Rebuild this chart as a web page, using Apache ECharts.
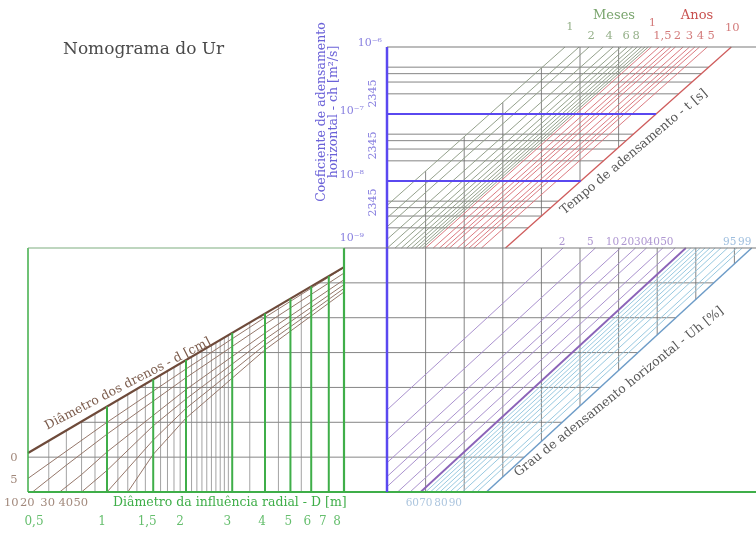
<!DOCTYPE html>
<html>
<head>
<meta charset="utf-8">
<script src="https://cdn.jsdelivr.net/npm/echarts@6/dist/echarts.min.js"></script>
<style>
html,body{margin:0;padding:0;background:#ffffff;}
#chart{width:756px;height:534px;}
</style>
</head>
<body>
<div id="chart"></div>
<script>
// ================= DATA =================
const chDecades = [-6, -7, -8, -9];              // ch = 10^dec  [m2/s]
const chMantissas = [2, 3, 4, 5];                // intermediate ch lines
const chReadings = [1e-7, 1e-8];                 // example reading lines (blue)
const monthLines = [1, 1.5, 2, 3, 4, 5, 6, 7, 8, 9, 10, 11];   // t in months
const monthTicks = [1, 2, 4, 6, 8];
const yearLines = [1, 1.25, 1.5, 1.75, 2, 2.5, 3, 3.5, 4, 5];  // t in years
const yearTicks = [1, 1.5, 2, 3, 4, 5, 10];
const yearMax = 10;
const uhPurple = [2, 5, 10, 15, 20, 30, 40];     // Uh [%]
const uhHalf = 50;
const uhCyan = [55, 60, 65, 70, 75, 80, 85, 90, 95, 97];
const uhMax = 99;
const uhTopTicks = [2, 5, 10, 20, 30, 40, 50, 95, 99];
const uhBottomTicks = [60, 70, 80, 90];
const dMajor = [1, 1.5, 2, 3, 4, 5, 6, 7];       // D [m]
const dMinor = [0.6, 0.7, 0.8, 0.9, 1.1, 1.2, 1.3, 1.4, 1.6, 1.7, 1.8, 1.9,
                2.1, 2.2, 2.3, 2.4, 2.5, 2.6, 2.7, 2.8, 2.9, 3.5, 4.5, 5.5];
const dRange = [0.5, 8];
const dTicks = [0.5, 1, 1.5, 2, 3, 4, 5, 6, 7, 8];
// drain lines: [D (m), ordinate (grid rows, 0 = bottom line)]
const drainRef = [[0.5, 1.12], [8, 6.45]];
const drainCurves = {
  5:  [[0.5, 0.39], [1, 2.0], [2, 3.53], [4, 5.01], [8, 6.44]],
  10: [[0.52, 0], [0.7, 0.77], [1, 1.66], [2, 3.28], [4, 4.81], [8, 6.28]],
  20: [[0.66, 0], [0.8, 0.5], [1, 1.15], [2, 2.94], [4, 4.56], [8, 6.09]],
  30: [[0.8, 0], [1, 0.62], [1.5, 1.9], [2, 2.67], [4, 4.38], [8, 5.95]],
  40: [[1.0, 0], [1.5, 1.49], [2, 2.40], [4, 4.22], [8, 5.84]],
  50: [[1.2, 0], [1.5, 1.08], [2, 2.12], [4, 4.08], [8, 5.74]]
};
const drainBottomTicks = [10, 20, 30, 40, 50];
const drainSideTicks = ['0', '5'];

// ================= LAYOUT / SCALES =================
const FONT = '"DejaVu Serif", serif';
const X_MIN = -2.7625, X_MAX = 2.3875;   // shared x units (log10 of months) for right quadrants
const CH_AXIS_X = -2.225;                // where the ch axis stands
const SKEW_T = 0.941;                    // x-units per ch decade along time lines
const K_B = 2.1115;                      // rows per x-unit along Uh lines
const UH_SHIFT = 1.67;
const GRID_STEP = 0.4825;
const ROWS = 7;
const drainLabelD = [0.432, 0.497, 0.594, 0.697, 0.795];
const NUDGE = {
  month: {1: [5, -20], 2: [2, -11], 4: [-4, -11], 6: [-1, -11], 8: [-1, -11]},
  year: {1: [1, -24], 1.5: [-3, -11], 2: [2, -11], 3: [0, -11], 4: [1, -11], 5: [4, -11], 10: [1, -19]},
  uhTop: {2: -1, 5: -5, 10: -8, 20: -19, 30: -22, 40: -22, 50: -19, 95: -7, 99: -7},
  uhBottom: {60: -18, 70: -14, 80: -9, 90: -7},
  dTick: {0.5: 6, 1: -5, 1.5: -6, 2: -6, 3: -5, 4: -3, 5: -2, 6: -4, 7: -6, 8: -7},
  chDec: {'-6': [-5, -4], '-7': [-23, -3], '-8': [-23, -6], '-9': [-23, -10]},
  chMinor: [13, -2, -12]
};
const C = {
  grid: '#707070', month: '#8e9c86', red: '#d9747a', red10: '#cf5c5c',
  purple: '#a58ccb', purple50: '#8a62b8', cyan: '#93c6de', blue99: '#6d9cc8',
  axisBlue: '#5a48f0', chText: '#6b62d8', green: '#3fae49', minor: '#8c8c8c',
  brown: '#6e4a3a', brownThin: '#8f7062', text: '#555555'
};

const log10 = Math.log10;
const xTime = m => log10(m);
const xUh = U => log10(-Math.log(1 - U / 100)) + UH_SHIFT;
const tStart = xTime(monthLines[0]);
const tEnd = xTime(yearMax * 12);
const fmt = v => String(v).replace('.', ',');
const SUP = {'-': '\u207B', '0': '\u2070', '1': '\u00B9', '2': '\u00B2', '3': '\u00B3', '4': '\u2074',
             '5': '\u2075', '6': '\u2076', '7': '\u2077', '8': '\u2078', '9': '\u2079'};
const sup = s => String(s).split('').map(c => SUP[c]).join('');

function seg(coords, color, width, opacity) {
  return {coords: coords, lineStyle: {color: color, width: width, opacity: opacity == null ? 1 : opacity}};
}
function timeLine(m) {
  const xt = xTime(m);
  let xb = xt - SKEW_T * 3, lb = -9;
  if (xb < CH_AXIS_X) { xb = CH_AXIS_X; lb = -6 - (xt - CH_AXIS_X) / SKEW_T; }
  return [[xt, 1e-6], [xb, Math.pow(10, lb)]];
}
function uhLine(U) {
  const xt = xUh(U);
  let xb = xt - ROWS / K_B, rb = 0;
  if (xb < CH_AXIS_X) { xb = CH_AXIS_X; rb = ROWS - K_B * (xt - CH_AXIS_X); }
  return [[xt, ROWS], [xb, rb]];
}
const lD0 = log10(dRange[0]), lD1 = log10(dRange[1]);
const thickRow = D => drainRef[0][1] + (log10(D) - lD0) / (lD1 - lD0) * (drainRef[1][1] - drainRef[0][1]);
const thickD = r => Math.pow(10, lD0 + (r - drainRef[0][1]) / (drainRef[1][1] - drainRef[0][1]) * (lD1 - lD0));

// ---------- top quadrant (ch / time) ----------
const tGrid = [], tDiag = [], tTop = [];
chDecades.slice(1).forEach(dec => chMantissas.forEach(m => {
  const ch = m * Math.pow(10, dec);
  tGrid.push(seg([[CH_AXIS_X, ch], [tEnd - SKEW_T * (-6 - log10(ch)), ch]], C.grid, 1, 0.85));
}));
for (let k = 1; ; k++) {
  const x = CH_AXIS_X + k * GRID_STEP;
  if (x >= xTime(12)) break;
  const topLog = x < tStart ? -6 - (tStart - x) / SKEW_T : -6;
  const botLog = Math.max(-9, -6 - (tEnd - x) / SKEW_T);
  if (topLog > botLog) tGrid.push(seg([[x, Math.pow(10, topLog)], [x, Math.pow(10, botLog)]], C.grid, 1, 0.85));
}
monthLines.forEach(m => tDiag.push(seg(timeLine(m), C.month, 1, 0.95)));
yearLines.forEach(y => tDiag.push(seg(timeLine(12 * y), C.red, 1, 0.95)));
tDiag.push(seg(timeLine(12 * yearMax), C.red10, 1.3));
tTop.push(seg([[CH_AXIS_X, 1e-6], [X_MAX, 1e-6]], '#7a7a7a', 1.2));
chReadings.forEach(ch => tTop.push(seg([[CH_AXIS_X, ch], [tEnd - SKEW_T * (-6 - log10(ch)), ch]], C.axisBlue, 2.2)));
tTop.push(seg([[CH_AXIS_X, 1e-9], [CH_AXIS_X, 1e-6]], C.axisBlue, 2.5));

// ---------- bottom-right quadrant (Uh) ----------
const bGrid = [], bDiag = [], bTop = [];
const x99 = xUh(uhMax);
for (let r = 1; r < ROWS; r++) bGrid.push(seg([[X_MIN, r], [x99 - (ROWS - r) / K_B, r]], C.grid, 1, 0.85));
for (let k = 1; ; k++) {
  const x = CH_AXIS_X + k * GRID_STEP;
  if (x >= x99) break;
  bGrid.push(seg([[x, ROWS], [x, Math.max(0, ROWS - K_B * (x99 - x))]], C.grid, 1, 0.85));
}
uhPurple.forEach(U => bDiag.push(seg(uhLine(U), C.purple, 1, 0.95)));
uhCyan.forEach(U => bDiag.push(seg(uhLine(U), C.cyan, 1, 0.95)));
bDiag.push(seg(uhLine(uhHalf), C.purple50, 1.8));
bDiag.push(seg(uhLine(uhMax), C.blue99, 1.5));
bTop.push(seg([[X_MIN, ROWS], [X_MAX, ROWS]], '#7a7a7a', 1.2));
bTop.push(seg([[X_MIN, 0], [X_MAX, 0]], C.green, 2.2));
bTop.push(seg([[CH_AXIS_X, 0], [CH_AXIS_X, ROWS]], C.axisBlue, 2.5));

// ---------- left quadrant (D, d) ----------
const lGrid = [], lBrown = [], lGreen = [];
for (let r = 1; r < ROWS; r++) {
  const d0 = r > drainRef[0][1] ? thickD(r) : dRange[0];
  lGrid.push(seg([[d0, r], [dRange[1], r]], C.grid, 1, 0.85));
}
dMinor.forEach(D => lGrid.push(seg([[D, 0], [D, thickRow(D)]], C.minor, 1, 0.8)));
Object.keys(drainCurves).forEach(d => lBrown.push(seg(drainCurves[d], C.brownThin, 1, 0.95)));
lBrown.push(seg(drainRef, C.brown, 2.2));
dMajor.forEach(D => lGreen.push(seg([[D, 0], [D, thickRow(D)]], C.green, 2)));
lGreen.push(seg([[dRange[1], 0], [dRange[1], ROWS]], C.green, 2.2));
lGreen.push(seg([[dRange[0], 0], [dRange[0], ROWS]], C.green, 1.5));
lGreen.push(seg([[dRange[0], ROWS], [dRange[1], ROWS]], '#7fae80', 1.2));
lGreen.push(seg([[dRange[0], 0], [dRange[1], 0]], C.green, 2.2));

// ---------- labels ----------
function lbl(x, y, text, color, size, dx, dy, rotate, align) {
  return {value: [x, y], label: {formatter: String(text), color: color, fontSize: size,
          offset: [dx || 0, dy || 0], rotate: rotate || 0, align: align || 'center'}};
}
const labT = [], labB = [], labL = [];
chDecades.forEach(dec => {
  const n = NUDGE.chDec[String(dec)];
  labT.push(lbl(CH_AXIS_X, Math.pow(10, dec), '10' + sup(dec), C.chText, 11, n[0], n[1], 0, 'right'));
});
// rotated labels: offset is applied in the rotated frame -> [-screenDy, screenDx]
chDecades.slice(0, 3).forEach((dec, i) => labT.push(lbl(CH_AXIS_X, Math.pow(10, dec - 0.5), chMantissas.join(''), C.chText, 11, -NUDGE.chMinor[i], -14, 90)));
monthTicks.forEach(m => labT.push(lbl(xTime(m), 1e-6, fmt(m), '#7b9c6c', 11.5, NUDGE.month[m][0], NUDGE.month[m][1])));
yearTicks.forEach(y => labT.push(lbl(xTime(12 * y), 1e-6, fmt(y), '#c85a5a', 11.5, NUDGE.year[y][0], NUDGE.year[y][1])));
uhTopTicks.forEach(U => labB.push(lbl(xUh(U), ROWS, U, U > 90 ? '#86aed6' : '#9a7cc6', 10.5, NUDGE.uhTop[U], -6)));
uhBottomTicks.forEach(U => labB.push(lbl(xUh(U) - ROWS / K_B, 0, U, '#97b6d6', 10.5, NUDGE.uhBottom[U], 11)));
dTicks.forEach(D => labL.push(lbl(D, 0, fmt(D), C.green, 12, NUDGE.dTick[D], 30)));
drainBottomTicks.forEach((d, i) => labL.push(lbl(drainLabelD[i], 0, d, '#8a6a5a', 11.5, 0, 11)));
labL.push(lbl(dRange[0], drainRef[0][1], drainSideTicks[0], '#8a6a5a', 11.5, -14, 5));
labL.push(lbl(dRange[0], drainCurves[5][0][1], drainSideTicks[1], '#8a6a5a', 11.5, -14, 2));

function linesSeries(data, xi, z) {
  return {type: 'lines', coordinateSystem: 'cartesian2d', xAxisIndex: xi, yAxisIndex: xi,
          polyline: true, silent: true, clip: false, z: z, data: data,
          lineStyle: {width: 1}, animation: false};
}
function labelSeries(data, xi) {
  return {type: 'scatter', xAxisIndex: xi, yAxisIndex: xi, symbolSize: 0, silent: true, clip: false, z: 20,
          label: {show: true, position: 'inside', fontFamily: FONT}, data: data, animation: false};
}
function gtext(x, y, text, color, size, rotDeg, align) {
  return {type: 'text', x: x, y: y, rotation: (rotDeg || 0) * Math.PI / 180, z: 30,
          style: {text: text, fill: color, font: size + 'px ' + FONT,
                  align: align || 'center', verticalAlign: 'middle',
                  textAlign: align || 'center', textVerticalAlign: 'middle'}};
}

const chart = echarts.init(document.getElementById('chart'), null, {renderer: 'canvas'});
chart.setOption({
  animation: false,
  backgroundColor: '#ffffff',
  grid: [
    {left: 344, top: 47, width: 412, height: 201},
    {left: 344, top: 248, width: 412, height: 244},
    {left: 28, top: 248, width: 316, height: 244}
  ],
  xAxis: [
    {type: 'value', gridIndex: 0, min: X_MIN, max: X_MAX, show: false},
    {type: 'value', gridIndex: 1, min: X_MIN, max: X_MAX, show: false},
    {type: 'log', gridIndex: 2, min: dRange[0], max: dRange[1], show: false}
  ],
  yAxis: [
    {type: 'log', gridIndex: 0, min: 1e-9, max: 1e-6, show: false},
    {type: 'value', gridIndex: 1, min: 0, max: ROWS, show: false},
    {type: 'value', gridIndex: 2, min: 0, max: ROWS, show: false}
  ],
  series: [
    linesSeries(tGrid, 0, 2), linesSeries(tDiag, 0, 3), linesSeries(tTop, 0, 5),
    linesSeries(bGrid, 1, 2), linesSeries(bDiag, 1, 3), linesSeries(bTop, 1, 5),
    linesSeries(lGrid, 2, 2), linesSeries(lBrown, 2, 3), linesSeries(lGreen, 2, 4),
    labelSeries(labT, 0), labelSeries(labB, 1), labelSeries(labL, 2)
  ],
  graphic: [
    gtext(63, 50, 'Nomograma do Ur', '#4a4a4a', 17, 0, 'left'),
    gtext(322, 112, 'Coeficiente de adensamento', C.chText, 12.5, 90),
    gtext(334, 112, 'horizontal - ch [m\u00B2/s]', C.chText, 12.5, 90),
    gtext(614, 16, 'Meses', '#7aa56e', 13),
    gtext(697, 16, 'Anos', '#c8504e', 13),
    gtext(634, 152, 'Tempo de adensamento - t [s]', C.text, 12.5, 40),
    gtext(619, 392, 'Grau de adensamento horizontal - Uh [%]', C.text, 12.5, 38.7),
    gtext(128, 384, 'Di\u00E2metro dos drenos - d [cm]', '#7a5a4a', 12.5, 27.5),
    gtext(113, 503, 'Di\u00E2metro da influ\u00EAncia radial - D [m]', C.green, 12.5, 0, 'left')
  ]
});
</script>
</body>
</html>
